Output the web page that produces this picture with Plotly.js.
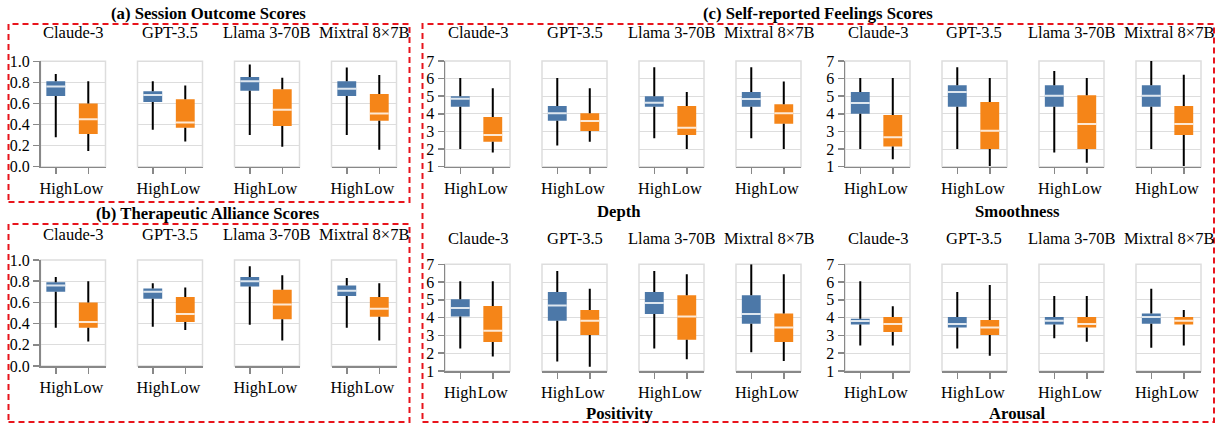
<!DOCTYPE html>
<html><head><meta charset="utf-8">
<script src="https://cdn.plot.ly/plotly-3.0.1.min.js"></script>
<style>html,body{margin:0;padding:0;background:#fff}</style>
</head><body><div id="chart" style="width:1220px;height:425px"></div>
<script>
// ---------------- DATA ----------------
const models = ['Claude-3', 'GPT-3.5', 'Llama 3-70B', 'Mixtral 8×7B'];
const groups = ['High', 'Low'];
// every array: [Claude High, Claude Low, GPT High, GPT Low, Llama High, Llama Low, Mixtral High, Mixtral Low]

// (a) Session Outcome Scores
const sessionMin = [0.28, 0.15, 0.35, 0.24, 0.30, 0.19, 0.30, 0.16];
const sessionQ1  = [0.67, 0.31, 0.615, 0.37, 0.72, 0.385, 0.67, 0.435];
const sessionMed = [0.76, 0.45, 0.68, 0.42, 0.81, 0.54, 0.74, 0.505];
const sessionQ3  = [0.81, 0.60, 0.715, 0.64, 0.85, 0.735, 0.81, 0.69];
const sessionMax = [0.88, 0.81, 0.81, 0.77, 0.97, 0.845, 0.94, 0.87];

// (b) Therapeutic Alliance Scores
const allianceMin = [0.36, 0.23, 0.37, 0.34, 0.39, 0.24, 0.36, 0.24];
const allianceQ1  = [0.70, 0.36, 0.635, 0.415, 0.75, 0.44, 0.66, 0.465];
const allianceMed = [0.76, 0.415, 0.70, 0.49, 0.80, 0.58, 0.71, 0.54];
const allianceQ3  = [0.79, 0.60, 0.73, 0.65, 0.84, 0.72, 0.76, 0.65];
const allianceMax = [0.84, 0.80, 0.78, 0.74, 0.94, 0.855, 0.83, 0.78];

// (c) Self-reported Feelings: Depth
const depthMin = [2.0, 1.8, 2.2, 2.42, 2.61, 2.0, 2.61, 2.0];
const depthQ1  = [4.41, 2.42, 3.61, 3.03, 4.41, 2.8, 4.41, 3.44];
const depthMed = [4.86, 2.8, 4.03, 3.59, 4.63, 3.21, 4.84, 4.03];
const depthQ3  = [5.0, 3.82, 4.44, 4.03, 5.0, 4.44, 5.24, 4.54];
const depthMax = [6.03, 5.45, 6.03, 5.45, 6.64, 5.24, 6.64, 5.83];

// Smoothness
const smoothMin = [2.0, 1.42, 2.0, 1.04, 1.81, 1.23, 2.0, 1.04];
const smoothQ1  = [4.0, 2.14, 4.41, 2.0, 4.41, 2.0, 4.41, 2.8];
const smoothMed = [4.62, 2.67, 5.24, 3.04, 5.03, 3.42, 5.03, 3.42];
const smoothQ3  = [5.24, 3.93, 5.62, 4.67, 5.62, 5.05, 5.62, 4.44];
const smoothMax = [6.03, 6.03, 6.64, 6.03, 6.43, 6.03, 7.0, 6.22];

// Positivity
const posMin = [2.26, 1.81, 1.53, 1.24, 2.26, 1.66, 2.05, 1.56];
const posQ1  = [4.06, 2.63, 3.83, 3.03, 4.21, 2.76, 3.66, 2.63];
const posMed = [4.54, 3.27, 4.68, 3.83, 4.83, 4.06, 4.21, 3.44];
const posQ3  = [5.03, 4.66, 5.44, 4.43, 5.44, 5.26, 5.26, 4.24];
const posMax = [6.04, 6.04, 6.63, 5.63, 6.63, 6.44, 7.0, 6.44];

// Arousal
const arMin = [2.44, 2.44, 2.26, 1.86, 2.84, 2.65, 2.31, 2.44];
const arQ1  = [3.61, 3.19, 3.44, 3.03, 3.61, 3.44, 3.66, 3.61];
const arMed = [3.81, 3.64, 3.64, 3.44, 3.83, 3.64, 4.04, 3.83];
const arQ3  = [3.94, 4.04, 4.04, 3.87, 4.04, 4.04, 4.24, 4.04];
const arMax = [6.04, 4.64, 5.44, 5.84, 5.22, 5.22, 5.63, 4.43];

const panelTitles = ['(a) Session Outcome Scores', '(b) Therapeutic Alliance Scores', '(c) Self-reported Feelings Scores'];
const feelingNames = ['Depth', 'Smoothness', 'Positivity', 'Arousal'];

// ---------------- LAYOUT ----------------
const W = 1220, H = 425;
const FONT = '"Liberation Serif", "Times New Roman", serif';
const colors = ['#4c78a8', '#f58518'];
const px2x = p => p / W;
const px2y = p => 1 - p / H;

const panels = [
  {stats: [sessionMin, sessionQ1, sessionMed, sessionQ3, sessionMax], lefts: [40.5, 137.5, 234.5, 331.5], top: 61.3, bottom: 166.7, range: [0, 1], dtick: 0.2, fmt: '.1f', titleY: 33},
  {stats: [allianceMin, allianceQ1, allianceMed, allianceQ3, allianceMax], lefts: [40.5, 137.5, 234.5, 331.5], top: 260, bottom: 366, range: [0, 1], dtick: 0.2, fmt: '.1f', titleY: 234.5},
  {stats: [depthMin, depthQ1, depthMed, depthQ3, depthMax], lefts: [445, 542, 639, 736], top: 61, bottom: 166.7, range: [1, 7], dtick: 1, fmt: 'd', titleY: 33},
  {stats: [smoothMin, smoothQ1, smoothMed, smoothQ3, smoothMax], lefts: [845, 942, 1039, 1136], top: 61, bottom: 166.7, range: [1, 7], dtick: 1, fmt: 'd', titleY: 33},
  {stats: [posMin, posQ1, posMed, posQ3, posMax], lefts: [445, 542, 639, 736], top: 264.3, bottom: 371, range: [1, 7], dtick: 1, fmt: 'd', titleY: 238.3},
  {stats: [arMin, arQ1, arMed, arQ3, arMax], lefts: [845, 942, 1039, 1136], top: 264.3, bottom: 371, range: [1, 7], dtick: 1, fmt: 'd', titleY: 238.3}
];
const PW = 65;

const traces = [];
const layout = {
  width: W, height: H,
  margin: {l: 0, r: 0, t: 0, b: 0},
  paper_bgcolor: '#fff', plot_bgcolor: 'rgba(0,0,0,0)',
  showlegend: false,
  boxmode: 'overlay', barmode: 'overlay',
  font: {family: FONT, color: '#000'},
  annotations: [], shapes: []
};

let k = 0;
panels.forEach(p => {
  const [mn, q1, md, q3, mx] = p.stats;
  models.forEach((model, m) => {
    k++;
    const xa = k === 1 ? 'x' : 'x' + k;
    const ya = k === 1 ? 'y' : 'y' + k;
    const xk = k === 1 ? 'xaxis' : 'xaxis' + k;
    const yk = k === 1 ? 'yaxis' : 'yaxis' + k;
    const i0 = 2 * m, i1 = 2 * m + 1;
    const left = p.lefts[m];
    layout[xk] = {
      domain: [px2x(left), px2x(left + PW)], anchor: ya,
      type: 'category', categoryorder: 'array', categoryarray: groups,
      range: [-0.47, 1.53], showgrid: false, zeroline: false,
      showline: true, linecolor: '#888', linewidth: 1.5,
      ticks: 'outside', ticklen: 6, tickwidth: 1.5, tickcolor: '#888',
      tickangle: 0, automargin: false,
      tickfont: {size: 16.3, family: FONT, color: '#000'}, fixedrange: true
    };
    const first = m === 0;
    layout[yk] = {
      domain: [px2y(p.bottom), px2y(p.top)], anchor: xa,
      range: p.range, dtick: p.dtick, tick0: p.range[0], tickformat: p.fmt,
      showgrid: true, gridcolor: '#ddd', gridwidth: 1, zeroline: false,
      showline: first, linecolor: '#888', linewidth: 1.5,
      ticks: first ? 'outside' : '', ticklen: 6, tickwidth: 1.5, tickcolor: '#888',
      showticklabels: first, automargin: false,
      tickfont: {size: 16, family: FONT, color: '#000'}, fixedrange: true
    };
    // frame
    layout.shapes.push({type: 'rect', xref: xa + ' domain', yref: ya + ' domain', x0: 0, x1: 1, y0: 0, y1: 1,
      line: {color: '#ddd', width: 1.5}, layer: 'below'});
    // subplot title
    layout.annotations.push({text: model, xref: 'paper', yref: 'paper', x: px2x(left + PW / 2), y: px2y(p.titleY),
      xanchor: 'center', yanchor: 'middle', showarrow: false, font: {size: 16.5, family: FONT, color: '#000'}});

    // box body (q1 -> q3)
    traces.push({type: 'bar', x: groups, base: [q1[i0], q1[i1]], y: [q3[i0] - q1[i0], q3[i1] - q1[i1]],
      width: 0.58, marker: {color: colors, line: {width: 0}}, xaxis: xa, yaxis: ya, hoverinfo: 'skip'});
    // median tick
    traces.push({type: 'box', x: groups, q1: [md[i0], md[i1]], median: [md[i0], md[i1]], q3: [md[i0], md[i1]],
      lowerfence: [md[i0], md[i1]], upperfence: [md[i0], md[i1]], width: 0.58, whiskerwidth: 0,
      fillcolor: 'rgba(0,0,0,0)', line: {color: 'rgba(255,255,255,0.82)', width: 2}, boxpoints: false,
      xaxis: xa, yaxis: ya, hoverinfo: 'skip'});
    // whiskers (min -> q1, q3 -> max)
    traces.push({type: 'scatter', mode: 'lines',
      x: ['High', 'High', 'High', 'High', 'High', 'High', 'Low', 'Low', 'Low', 'Low', 'Low'],
      y: [mn[i0], q1[i0], null, q3[i0], mx[i0], null, mn[i1], q1[i1], null, q3[i1], mx[i1]],
      connectgaps: false, line: {color: '#000', width: 2}, xaxis: xa, yaxis: ya, hoverinfo: 'skip'});
  });
});

// panel titles
const bold = (t, x, y) => layout.annotations.push({text: '<b>' + t + '</b>', xref: 'paper', yref: 'paper',
  x: px2x(x), y: px2y(y), xanchor: 'center', yanchor: 'middle', showarrow: false,
  font: {size: 16.7, family: FONT, color: '#000'}});
bold(panelTitles[0], 208, 13);
bold(panelTitles[1], 208, 213);
bold(panelTitles[2], 818, 13);
bold(feelingNames[0], 619, 212);
bold(feelingNames[1], 1018, 212);
bold(feelingNames[2], 619, 413);
bold(feelingNames[3], 1018, 413);

// dashed red panel frames
const dashed = (x0, y0, x1, y1) => layout.shapes.push({type: 'rect', xref: 'paper', yref: 'paper',
  x0: px2x(x0), x1: px2x(x1), y0: px2y(y1), y1: px2y(y0), line: {color: '#e8141c', width: 2, dash: '6px,4px'}, layer: 'above'});
dashed(8.5, 24, 409.5, 202);
dashed(8.5, 224, 409.5, 422);
dashed(422.5, 24, 1214, 422);

Plotly.newPlot('chart', traces, layout, {staticPlot: true, displayModeBar: false});
</script></body></html>
